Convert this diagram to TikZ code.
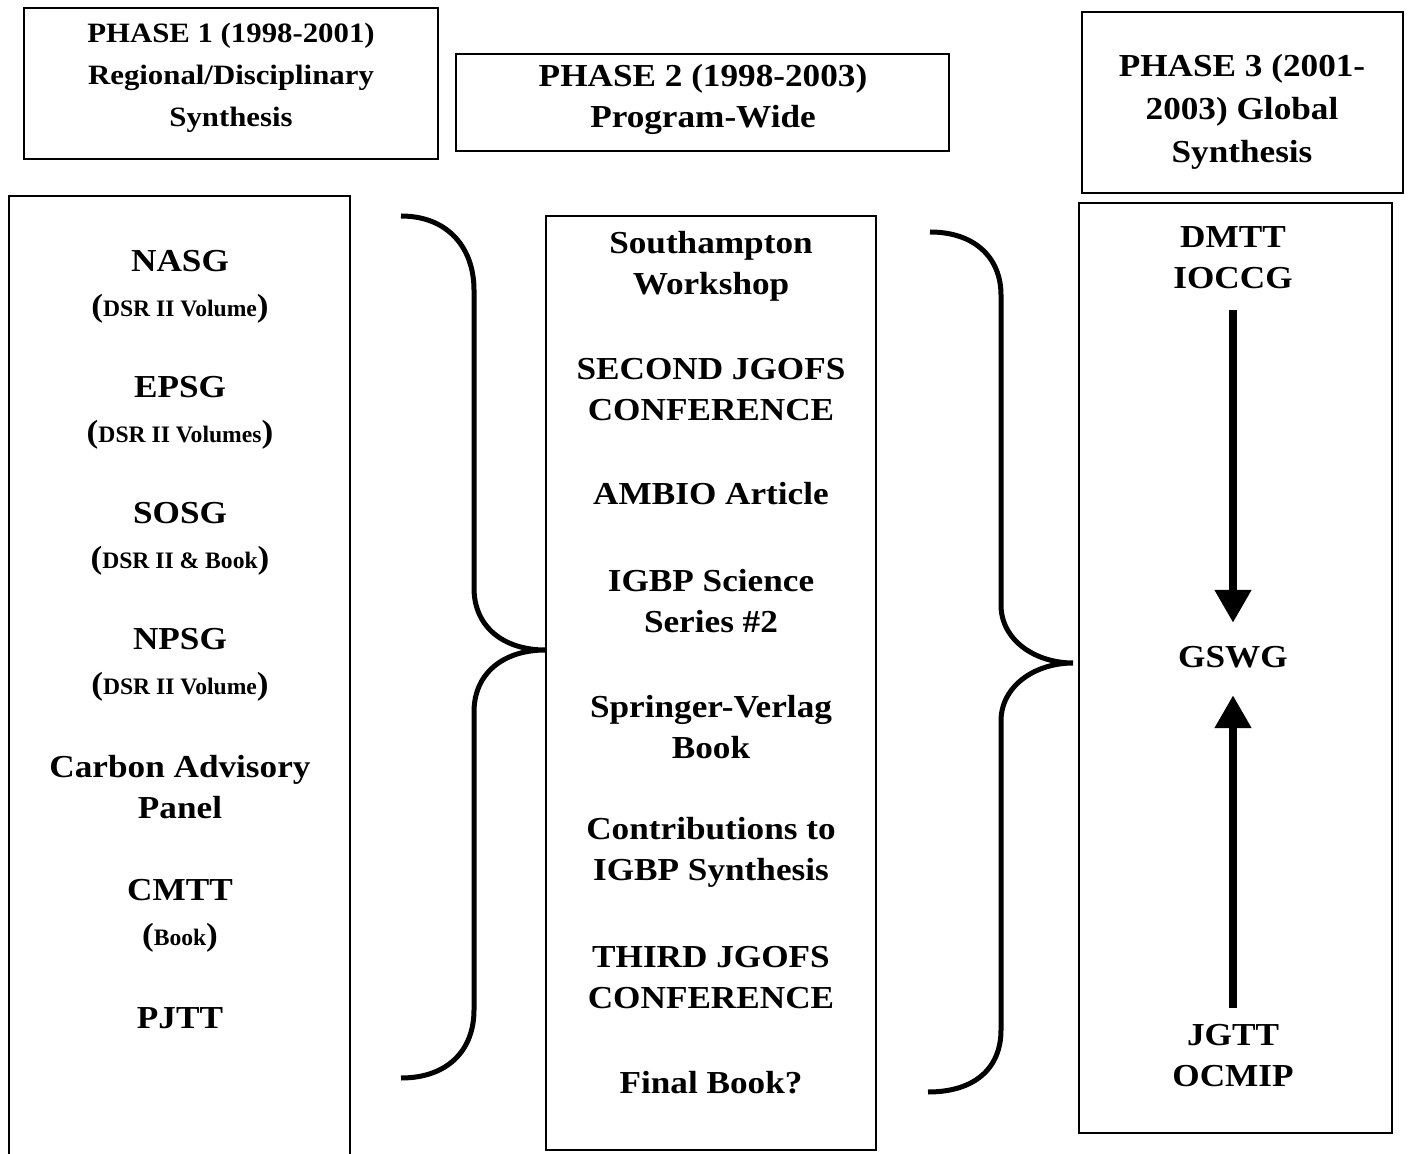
\documentclass[tikz,border=0pt]{standalone}
\usepackage{fontspec}
\setmainfont[FakeStretch=1.1]{Liberation Serif}
\newfontfamily\notefont{Liberation Serif}
\usetikzlibrary{arrows.meta}

% small bracketed remark under a group name
\newcommand{\volnote}[1]{{\fontsize{16}{18}\selectfont(}{\notefont\fontsize{11.8}{14}\selectfont #1}{\fontsize{16}{18}\selectfont)}}

\tikzset{
    frame/.style={draw, line width=1pt, inner sep=0pt},
    entry/.style={font=\fontsize{16}{20.5}\selectfont\bfseries, align=center, inner sep=0pt},
    phaseone/.style={font=\fontsize{14}{21}\selectfont\bfseries, align=center, inner sep=0pt},
    brace/.style={line width=2.5pt},
    flow/.style={line width=4pt, -{Triangle[width=17.5pt,length=16.5pt]}},
}

\begin{document}
\begin{tikzpicture}[x=0.5pt, y=-0.5pt]
        \useasboundingbox (0,0) rectangle (1408,1154);
        \clip (0,0) rectangle (1408,1154);

        % phase headings
        \node (p1box) [frame, minimum width=207pt, minimum height=75.5pt] at (231,83.5) {};
        \node (p1) [phaseone] at (231,78) {PHASE 1 (1998-2001)\\Regional/Disciplinary\\Synthesis};

        \node (p2box) [frame, minimum width=246.5pt, minimum height=48.5pt] at (702.5,102.5) {};
        \node (p2) [entry] at (703,99) {PHASE 2 (1998-2003)\\Program-Wide};

        \node (p3box) [frame, minimum width=160.5pt, minimum height=90.5pt] at (1242.5,102.5) {};
        \node (p3) [entry, font=\fontsize{16}{21.5}\selectfont\bfseries] at (1242,112) {PHASE 3 (2001-\\2003) Global\\Synthesis};

        % column frames
        \node (leftbox) [frame, minimum width=170.5pt, minimum height=487pt] at (179.5,683) {};
        \node (midbox) [frame, minimum width=165pt, minimum height=467pt] at (711,683) {};
        \node (rightbox) [frame, minimum width=156.5pt, minimum height=465pt] at (1235.5,668) {};

        % phase 1 groups
        \node (nasg) [entry] at (180,287) {NASG\\[2pt]\volnote{DSR II Volume}};
        \node (epsg) [entry] at (180,412.5) {EPSG\\[2pt]\volnote{DSR II Volumes}};
        \node (sosg) [entry] at (180,538.5) {SOSG\\[2pt]\volnote{DSR II \& Book}};
        \node (npsg) [entry] at (180,664.5) {NPSG\\[2pt]\volnote{DSR II Volume}};
        \node (cap) [entry] at (180,787.5) {Carbon Advisory\\Panel};
        \node (cmtt) [entry] at (180,916) {CMTT\\[2pt]\volnote{Book}};
        \node (pjtt) [entry] at (180,1018) {PJTT};

        % phase 2 products
        \node (soton) [entry] at (711,266.5) {Southampton\\Workshop};
        \node (second) [entry] at (711,390) {SECOND JGOFS\\CONFERENCE};
        \node (ambio) [entry] at (711,494) {AMBIO Article};
        \node (igbp) [entry] at (711,601) {IGBP Science\\Series \#2};
        \node (springer) [entry] at (711,727.5) {Springer-Verlag\\Book};
        \node (contrib) [entry] at (711,852) {Contributions to\\IGBP Synthesis};
        \node (third) [entry] at (711,978) {THIRD JGOFS\\CONFERENCE};
        \node (final) [entry] at (711,1083) {Final Book?};

        % phase 3 groups
        \node (dmtt) [entry] at (1233,258) {DMTT\\IOCCG};
        \node (gswg) [entry] at (1233,657) {GSWG};
        \node (jgtt) [entry] at (1233,1056) {JGTT\\OCMIP};

        \draw[flow, shorten <=10pt, shorten >=11.5pt] (dmtt) -- (gswg);
        \draw[flow, shorten <=8pt, shorten >=13.5pt] (jgtt) -- (gswg);

        % braces
        \coordinate (tipA) at (545,650);
        \coordinate (tipB) at (1073,663);
        \draw[brace] (401,216) .. controls (448,216) and (474,248) .. (474,290) -- (474,588)
            .. controls (474,628) and (505,650) .. (tipA)
            .. controls (505,650) and (474,672) .. (474,712) -- (474,1010)
            .. controls (474,1050) and (448,1078) .. (401,1078);
        \draw[brace] (930,232) .. controls (975,232) and (1001,258) .. (1001,295) -- (1001,605)
            .. controls (1001,640) and (1035,663) .. (tipB)
            .. controls (1035,663) and (1001,686) .. (1001,721) -- (1001,1030)
            .. controls (1001,1068) and (975,1092) .. (928,1092);
\end{tikzpicture}
\end{document}
